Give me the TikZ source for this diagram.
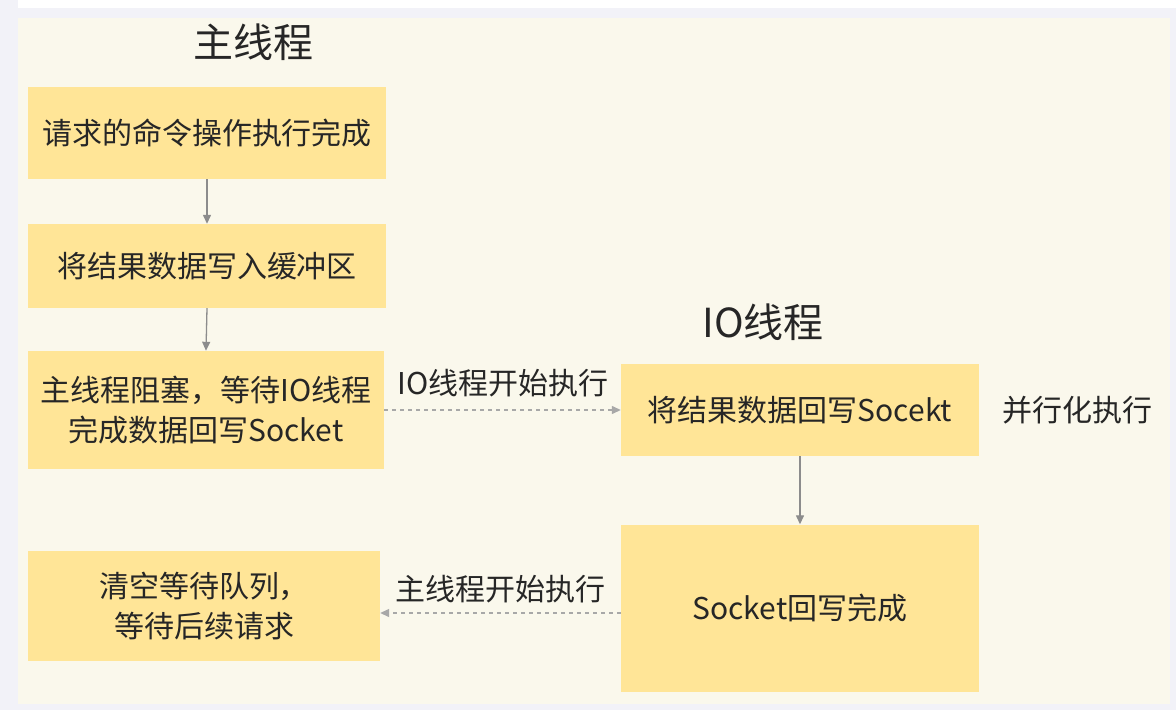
\documentclass[tikz,border=0pt]{standalone}
\usepackage{fontspec}
\setmainfont{Noto Sans CJK SC}
\usetikzlibrary{arrows.meta,positioning}
\definecolor{bggrey}{HTML}{F2F2F8}
\definecolor{cream}{HTML}{FAF8EC}
\definecolor{boxyellow}{HTML}{FFE597}
\definecolor{txt}{HTML}{262626}
\definecolor{arr}{HTML}{8C8C8C}
\definecolor{darr}{HTML}{A8A8A8}
\tikzset{
  stepbox/.style={rectangle, fill=boxyellow, draw=none, text=txt, font=\fontsize{30}{40}\selectfont, align=center, inner sep=0pt},
  title/.style={text=txt, font=\fontsize{40}{46}\selectfont, inner sep=0pt},
  lbl/.style={text=txt, font=\fontsize{30}{36}\selectfont, inner sep=0pt},
  solidarrow/.style={draw=arr, line width=1.3pt, -{Triangle[length=9pt,width=8pt]}},
  dasharrow/.style={draw=darr, line width=1.3pt, dash pattern=on 4pt off 4pt, -{Triangle[length=9pt,width=8pt]}},
}
\begin{document}
\begin{tikzpicture}[x=1pt,y=-1pt]
\fill[bggrey] (0,0) rectangle (1176,710);
\fill[white] (18,0) rectangle (1176,8);
\fill[cream] (18,18) rectangle (1170,704);
\useasboundingbox (0,0) rectangle (1176,710);

\node[title] (t1) at (253,42) {主线程};
\node[title] (t2) at (763,322) {IO线程};

\node[stepbox, minimum width=358pt, minimum height=92pt] (b1) at (207,133) {请求的命令操作执行完成};
\node[stepbox, minimum width=358pt, minimum height=84pt] (b2) at (207,266) {将结果数据写入缓冲区};
\node[stepbox, minimum width=356pt, minimum height=118pt] (b3) at (206,410) {主线程阻塞，等待IO线程\\完成数据回写Socket};
\node[stepbox, minimum width=352pt, minimum height=110pt] (b4) at (204,606) {清空等待队列，\\等待后续请求};
\node[stepbox, minimum width=358pt, minimum height=92pt] (b5) at (800,410) {将结果数据回写Socekt};
\node[stepbox, minimum width=358pt, minimum height=167pt] (b6) at (800,608) {Socket回写完成};

\node[lbl] (p) at (1077,410) {并行化执行};
\node[lbl] (l1) at (503,383) {IO线程开始执行};
\node[lbl] (l2) at (500,589) {主线程开始执行};

\draw[solidarrow] (b1.south) -- (b2.north);
\draw[solidarrow] (b2.south) -- (b3.north);
\draw[solidarrow] (b5.south) -- (b6.north);
\draw[dasharrow] (b3.east) -- (b5.west);
\draw[dasharrow] ([yshift=-5pt]b6.west) -- ([yshift=-7pt]b4.east);
\end{tikzpicture}
\end{document}
